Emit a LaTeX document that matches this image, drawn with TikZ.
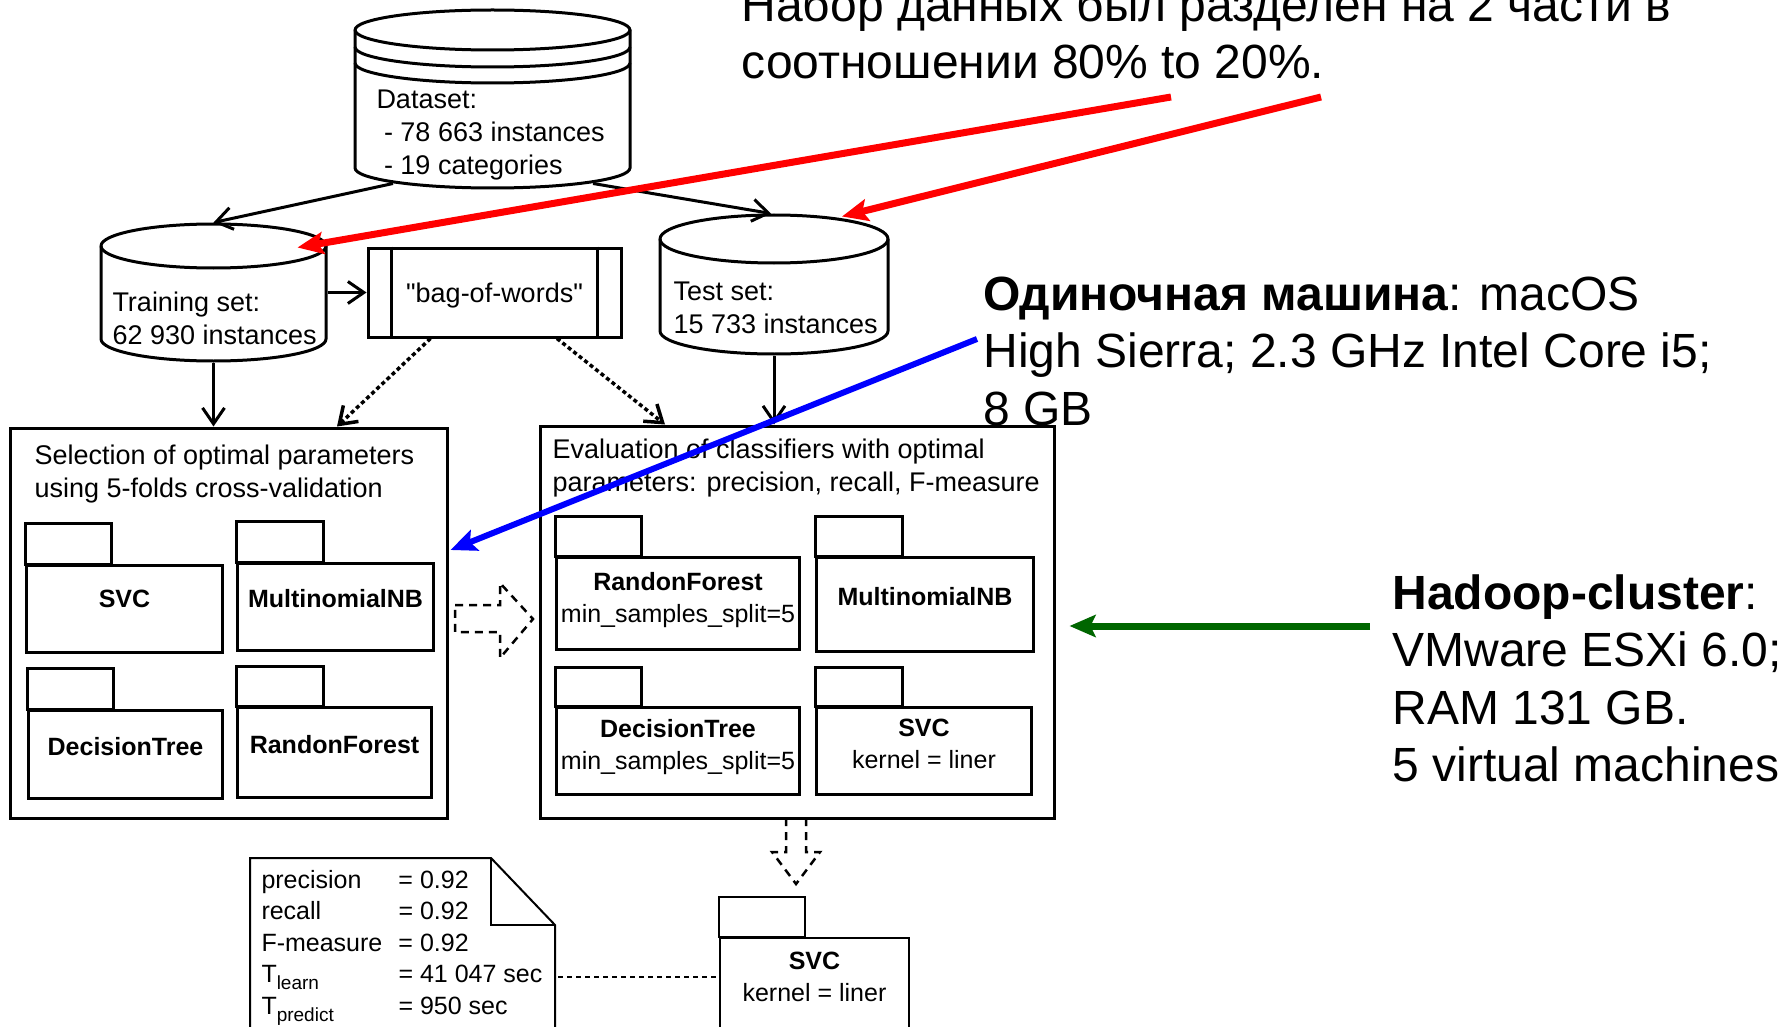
\documentclass[tikz,border=0pt]{standalone}
\usepackage{fontspec}
\setmainfont{Liberation Sans}
\usetikzlibrary{arrows.meta,calc}
\definecolor{splitred}{RGB}{255,0,0}
\definecolor{machblue}{RGB}{0,0,255}
\definecolor{clustgreen}{RGB}{0,102,0}

\begin{document}
\begin{tikzpicture}[x=1pt, y=1pt, line width=3pt, inner sep=0pt,
  small/.style={font=\fontsize{27pt}{33pt}\selectfont},
  pkgfont/.style={font=\fontsize{25pt}{32pt}\selectfont, align=center, anchor=north},
  big/.style={font=\fontsize{48pt}{57.3pt}\selectfont, anchor=north west, align=left},
  pkg/.style={draw, anchor=north west},
  arr/.style={-{Straight Barb[length=16pt,width=22pt]}},
  dotarr/.style={arr, line width=3.5pt, dash pattern=on 4pt off 3pt},
  hollow/.style={line width=2.5pt, dash pattern=on 8pt off 6pt},
  fatarr/.style={-{Stealth[length=26pt,width=22pt,inset=5pt]}}]
\useasboundingbox (0,0) rectangle (1791,-1027);

% data stores
\node[minimum width=275, minimum height=178] (data) at (492.5,-99) {};
\draw[fill=white] (355,-30) -- (355,-168) arc[start angle=180,end angle=360,x radius=137.5,y radius=20] -- (630,-30) arc[start angle=0,end angle=180,x radius=137.5,y radius=20] -- cycle;
\draw (355,-30) arc[start angle=180,end angle=360,x radius=137.5,y radius=20];
\draw (355,-47) arc[start angle=180,end angle=360,x radius=137.5,y radius=20];
\draw (355,-63) arc[start angle=180,end angle=360,x radius=137.5,y radius=20];
\node[small, anchor=north west, align=left] (data-t) at (375,-88.5) {Dataset:\\\ - 78 663 instances\\\ - 19 categories};

\node[minimum width=225, minimum height=137] (train) at (213.5,-292.5) {};
\draw[fill=white] (101,-246) -- (101,-339) arc[start angle=180,end angle=360,x radius=112.5,y radius=22] -- (326,-246) arc[start angle=0,end angle=180,x radius=112.5,y radius=22] -- cycle;
\draw (101,-246) arc[start angle=180,end angle=360,x radius=112.5,y radius=22];
\node[small, anchor=north west, align=left] (train-t) at (111,-290.5) {Training set:\\62 930 instances};

\node[minimum width=228, minimum height=139] (test) at (774,-284.5) {};
\draw[fill=white] (660,-239) -- (660,-331) arc[start angle=180,end angle=360,x radius=114,y radius=23] -- (888,-239) arc[start angle=0,end angle=180,x radius=114,y radius=24] -- cycle;
\draw (660,-239) arc[start angle=180,end angle=360,x radius=114,y radius=24];
\node[small, anchor=north west, align=left] (test-t) at (672,-280.5) {Test set:\\15 733 instances};

\node[draw, small, text depth=0pt, minimum width=253, minimum height=89] (bag) at (494.5,-292.5) {\textquotedbl bag-of-words\textquotedbl};
\draw ($(bag.north west)+(25,0)$) -- ($(bag.south west)+(25,0)$);
\draw ($(bag.north east)+(-25,0)$) -- ($(bag.south east)+(-25,0)$);

% parameter selection
\node[draw, minimum width=437, minimum height=390] (sel) at (228.5,-623) {};
\node[small, anchor=north west, align=left] (sel-t) at (33,-443.5) {Selection of optimal parameters\\using 5-folds cross-validation};
\node[pkg, minimum width=196, minimum height=87] (svc1) at (25,-564) {};
\draw (svc1.north west) rectangle ++(86,41);
\node[pkgfont] (svc1-t) at ($(svc1.north)+(0,-25)$) {\textbf{SVC}};
\node[pkg, minimum width=196, minimum height=87] (mnb1) at (236,-562) {};
\draw (mnb1.north west) rectangle ++(87,41);
\node[pkgfont] (mnb1-t) at ($(mnb1.north)+(0,-26)$) {\textbf{MultinomialNB}};
\node[pkg, minimum width=194, minimum height=88] (dt1) at (27,-709) {};
\draw (dt1.north west) rectangle ++(86,41);
\node[pkgfont] (dt1-t) at ($(dt1.north)+(0,-27)$) {\textbf{DecisionTree}};
\node[pkg, minimum width=194, minimum height=90] (rf1) at (236,-706) {};
\draw (rf1.north west) rectangle ++(87,40);
\node[pkgfont] (rf1-t) at ($(rf1.north)+(0,-28)$) {\textbf{RandonForest}};

% evaluation
\node[draw, minimum width=514, minimum height=392] (eval) at (797,-622) {};
\node[small, anchor=north west, align=left] (eval-t) at (551,-437.5) {Evaluation of classifiers with optimal\\parameters: precision, recall, F-measure};
\node[pkg, minimum width=243, minimum height=92] (rf2) at (555,-556) {};
\draw (rf2.north west) rectangle ++(86,40);
\node[pkgfont] (rf2-t) at ($(rf2.north)+(0,-15)$) {\textbf{RandonForest}\\min\_samples\_split=5};
\node[pkg, minimum width=217, minimum height=94] (mnb2) at (815,-556) {};
\draw (mnb2.north west) rectangle ++(87,40);
\node[pkgfont] (mnb2-t) at ($(mnb2.north)+(0,-30)$) {\textbf{MultinomialNB}};
\node[pkg, minimum width=243, minimum height=87] (dt2) at (555,-706) {};
\draw (dt2.north west) rectangle ++(86,39);
\node[pkgfont] (dt2-t) at ($(dt2.north)+(0,-12)$) {\textbf{DecisionTree}\\min\_samples\_split=5};
\node[pkg, minimum width=215, minimum height=87] (svc2) at (815,-706) {};
\draw (svc2.north west) rectangle ++(87,39);
\node[pkgfont] (svc2-t) at ($(svc2.north)+(0,-12)$) {\textbf{SVC}\\kernel = liner};

\draw[hollow] (455,-605) -- (500,-605) -- (500,-583) -- (533,-619) -- (500,-658) -- (500,-632) -- (455,-632) -- cycle;
\draw[hollow] (786,-818) -- (786,-852) -- (772,-852) -- (796,-884) -- (820,-852) -- (806,-852) -- (806,-818);

% result
\node[pkg, line width=2pt, minimum width=189, minimum height=110] (svc3) at (719,-937) {};
\draw[line width=2pt] (svc3.north west) rectangle ++(86,40);
\node[pkgfont] (svc3-t) at ($(svc3.north)+(0,-14)$) {\textbf{SVC}\\kernel = liner};

\node[anchor=north west, minimum width=305, minimum height=190] (note) at (250,-858) {};
\draw[line width=2pt, fill=white] (250,-858) -- (491,-858) -- (555,-925) -- (555,-1048) -- (250,-1048) -- cycle;
\draw[line width=2pt] (491,-858) -- (491,-925) -- (555,-925);
\node[font=\fontsize{25pt}{31.5pt}\selectfont, anchor=base west] (note-t) at (260,-888) {\begin{tabular}[t]{@{}p{137pt}@{}l@{}}
precision & = 0.92\\
recall & = 0.92\\
F-measure & = 0.92\\
T\raisebox{-7pt}{\fontsize{19pt}{19pt}\selectfont learn} & = 41 047 sec\\
T\raisebox{-7pt}{\fontsize{19pt}{19pt}\selectfont predict} & = 950 sec
\end{tabular}};
\draw[line width=1.5pt, dash pattern=on 5pt off 4pt] ($(note.north east)+(0,-119)$) -- ($(svc3.north west)+(0,-40)$);

\draw[arr] ($(data.south)+(-99.5,6)$) -- (train.north);
\draw[arr] ($(data.south)+(100.5,6)$) -- ($(test.north)+(-3,0)$);
\draw[arr] (train.east) -- (bag.west);
\draw[arr] (train.south) -- (train.south |- sel.north);
\draw[arr] (test.south) -- (test.south |- eval.north);
\draw[dotarr] ($(bag.south)+(-64,0)$) -- ($(sel.north)+(108.5,0)$);
\draw[dotarr] ($(bag.south)+(62.5,0)$) -- ($(eval.north)+(-132,0)$);

% remarks
\coordinate (split-a) at (1171,-97);
\coordinate (split-b) at (1321,-97);
\coordinate (mac-tail) at (977,-339);
\coordinate (hadoop-tail) at (1370,-626);
\draw[fatarr, splitred, line width=7pt] (split-a) -- ($(train.north)+(84,-25)$);
\draw[fatarr, splitred, line width=7pt] (split-b) -- ($(test.north)+(68,-3)$);
\draw[fatarr, machblue, line width=6pt] (mac-tail) -- ($(sel.east)+(2,73)$);
\draw[fatarr, clustgreen, line width=7pt] (hadoop-tail) -- ($(eval.east)+(14,-4)$);

\node[big] (split-note) at (740,15.6) {Набор данных был разделен на 2 части в\\соотношении 80\% to 20\%.};
\node[big] (mac-note) at (982,-275.5) {\textbf{Одиночная машина}: macOS\\High Sierra; 2.3 GHz Intel Core i5;\\8 GB};
\node[big] (hadoop-note) at (1391,-573.4) {\textbf{Hadoop-cluster}:\\VMware ESXi 6.0;\\RAM 131 GB.\\5 virtual machines};
\end{tikzpicture}
\end{document}
